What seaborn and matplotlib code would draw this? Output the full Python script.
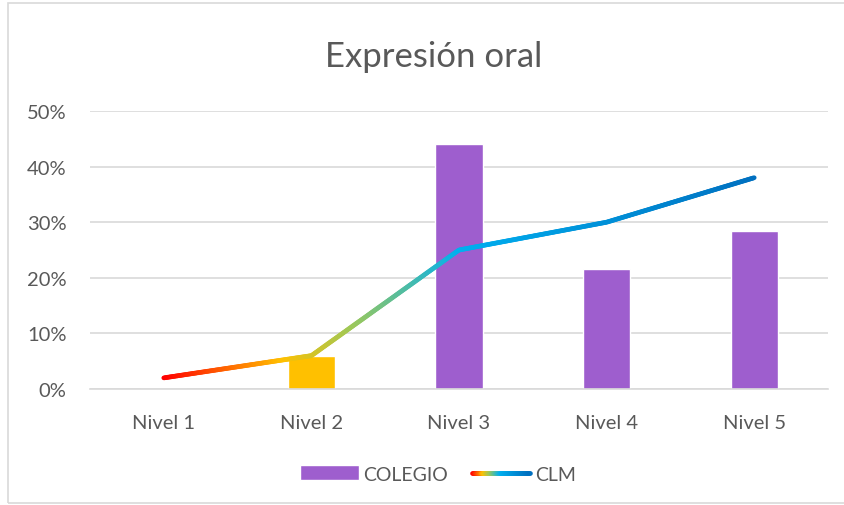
import matplotlib
matplotlib.use('Agg')
import matplotlib.pyplot as plt
import seaborn as sns
import numpy as np
import pandas as pd
from matplotlib.collections import LineCollection
from matplotlib.colors import LinearSegmentedColormap
from matplotlib.legend_handler import HandlerBase
from matplotlib.patches import Patch, Rectangle
from matplotlib.ticker import PercentFormatter

niveles = ['Nivel 1', 'Nivel 2', 'Nivel 3', 'Nivel 4', 'Nivel 5']
colegio = [0.0, 0.06, 0.44, 0.215, 0.285]
clm = [0.02, 0.06, 0.25, 0.30, 0.38]
bar_colors = ['#9E5ECE', '#FFC000', '#9E5ECE', '#9E5ECE', '#9E5ECE']

grad = LinearSegmentedColormap.from_list('clm', [
    (0.0, '#FF0000'), (0.2, '#FFC000'), (0.32, '#9CC85A'),
    (0.5, '#00B0F0'), (1.0, '#0070C0')])

text_color = '#595959'
grid_color = '#D9D9D9'

sns.set_style('white')
plt.rcParams['font.family'] = ['Lato', 'DejaVu Sans']

fig = plt.figure(figsize=(8.45, 5.06), dpi=100)
ax = fig.add_axes([90 / 845, 1 - 390 / 506, 738 / 845, 278 / 506])

df = pd.DataFrame({'nivel': niveles, 'colegio': colegio})
sns.barplot(data=df, x='nivel', y='colegio', hue='nivel', palette=bar_colors,
            saturation=1, width=0.32, legend=False, ax=ax, zorder=2)


def gradient_line(xs, ys, n=400):
    xs = np.asarray(xs, float)
    ys = np.asarray(ys, float)
    t = np.linspace(0, 1, n)
    xi = xs[0] + t * (xs[-1] - xs[0])
    yi = np.interp(xi, xs, ys)
    pts = np.column_stack([xi, yi]).reshape(-1, 1, 2)
    segs = np.concatenate([pts[:-1], pts[1:]], axis=1)
    return segs, t[:-1]


xpos = np.arange(len(niveles))
segs, tt = gradient_line(xpos, clm)
lc = LineCollection(segs, colors=grad(tt), linewidth=3.4, capstyle='round', zorder=3)
ax.add_collection(lc)

ax.set_xlim(-0.5, 4.5)
ax.set_ylim(0, 0.5)
ax.set_yticks(np.arange(0, 0.51, 0.1))
ax.yaxis.set_major_formatter(PercentFormatter(1.0, decimals=0))
ax.grid(axis='y', color=grid_color, linewidth=1.2, zorder=0)
ax.set_axisbelow(True)
for s in ['top', 'right', 'left']:
    ax.spines[s].set_visible(False)
ax.spines['bottom'].set_color(grid_color)
ax.spines['bottom'].set_linewidth(1.2)
ax.tick_params(axis='both', length=0, labelsize=14.5, colors=text_color)
ax.tick_params(axis='y', pad=17)
ax.tick_params(axis='x', pad=18)
ax.set_xlabel('')
ax.set_ylabel('')

fig.text(434 / 845, 1 - 57 / 506, 'Expresión oral', ha='center', va='center',
         fontsize=25, color=text_color)


class GradientHandler(HandlerBase):
    def create_artists(self, legend, orig_handle, xdescent, ydescent,
                       width, height, fontsize, trans):
        n = 60
        x = np.linspace(-xdescent, width - xdescent, n)
        y = np.full(n, height / 2 - ydescent)
        pts = np.column_stack([x, y]).reshape(-1, 1, 2)
        s = np.concatenate([pts[:-1], pts[1:]], axis=1)
        art = LineCollection(s, colors=grad(np.linspace(0, 1, n - 1)),
                             linewidth=3.4, capstyle='round', transform=trans)
        return [art]


handles = [Patch(facecolor='#9E5ECE'), lc]
fig.legend(handles, ['COLEGIO', 'CLM'], handler_map={LineCollection: GradientHandler()},
           loc='center', bbox_to_anchor=(438 / 845, 1 - 475 / 506), ncol=2,
           frameon=False, fontsize=14, labelcolor=text_color, handlelength=3.0,
           handleheight=0.8, handletextpad=0.25, columnspacing=1.2)

fig.patches.append(Rectangle((8 / 845, 2 / 506), 1.0, 1 - 6 / 506, transform=fig.transFigure,
                             fill=False, edgecolor=grid_color, linewidth=1.2))

fig.savefig('out.png', dpi=100)
